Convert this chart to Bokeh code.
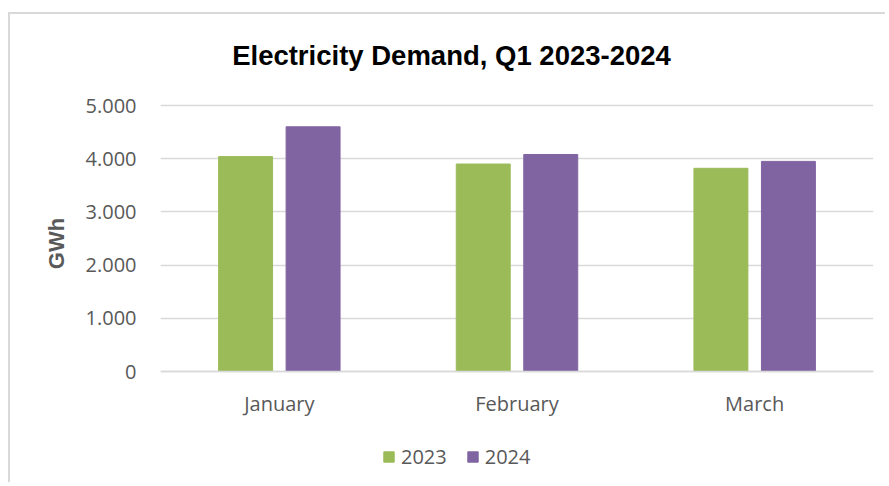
from bokeh.plotting import figure
from bokeh.models import (FactorRange, Range1d, FixedTicker, Legend, LegendItem,
                          Label, ColumnDataSource)
from bokeh.transform import dodge
from bokeh.embed import file_html
from bokeh.resources import INLINE

# ---- data ----
months = ["January", "February", "March"]
demand_2023 = [4040, 3900, 3820]
demand_2024 = [4600, 4080, 3950]
series_names = ["2023", "2024"]
y_ticks = [0, 1000, 2000, 3000, 4000, 5000]
y_tick_labels = ["0", "1.000", "2.000", "3.000", "4.000", "5.000"]
title_text = "Electricity Demand, Q1 2023-2024"
y_label = "GWh"

GREEN = "#9BBB59"
PURPLE = "#8064A2"
TEXT = "#595959"
GRID = "#D9D9D9"

source = ColumnDataSource(dict(month=months, y2023=demand_2023, y2024=demand_2024))

# frame spans the whole chart height; value axis 0..5000 sits inside it
p = figure(
    x_range=FactorRange(*months),
    y_range=Range1d(-1898, 6711),
    width=877, height=470,
    output_backend="svg", toolbar_location=None,
    min_border_left=150, min_border_right=14,
    min_border_top=0, min_border_bottom=12,
)
p.margin = (12, 0, 0, 8)
p.styles = {"border-left": "2px solid #D9D9D9", "border-top": "2px solid #D9D9D9"}
p.outline_line_color = None
p.background_fill_color = "white"
p.border_fill_color = "white"

bw = 0.227
off = 0.142
r1 = p.vbar(x=dodge("month", -off, range=p.x_range), top="y2023", width=bw,
            source=source, fill_color=GREEN, line_color=GREEN)
r2 = p.vbar(x=dodge("month", off, range=p.x_range), top="y2024", width=bw,
            source=source, fill_color=PURPLE, line_color=PURPLE)

# axes
p.yaxis.ticker = FixedTicker(ticks=y_ticks)
p.yaxis.major_label_overrides = {t: l for t, l in zip(y_ticks, y_tick_labels)}
p.yaxis.axis_line_color = None
p.yaxis.major_tick_line_color = None
p.yaxis.minor_tick_line_color = None
p.yaxis.major_label_standoff = 18
p.yaxis.major_label_text_font = "Open Sans"
p.yaxis.major_label_text_font_size = "20px"
p.yaxis.major_label_text_color = TEXT
p.yaxis.axis_label = y_label
p.yaxis.axis_label_text_font = "Liberation Sans"
p.yaxis.axis_label_text_font_style = "bold"
p.yaxis.axis_label_text_font_size = "22px"
p.yaxis.axis_label_text_color = TEXT
p.yaxis.axis_label_standoff = 14

p.xaxis.fixed_location = 0
p.xaxis.axis_line_color = GRID
p.xaxis.axis_line_width = 1.5
p.xaxis.major_tick_line_color = None
p.xaxis.minor_tick_line_color = None
p.xaxis.major_label_standoff = 12
p.xaxis.major_label_text_font = "Open Sans"
p.xaxis.major_label_text_font_size = "20px"
p.xaxis.major_label_text_color = TEXT

p.xgrid.grid_line_color = None
p.ygrid.grid_line_color = GRID
p.ygrid.grid_line_width = 1.5

# title
p.add_layout(Label(x=1.2244, y=5940, text=title_text, text_align="center",
                   text_baseline="alphabetic", text_font="Liberation Sans",
                   text_font_style="bold", text_font_size="27.5px",
                   text_color="black"))

# legend
legend = Legend(items=[LegendItem(label=series_names[0], renderers=[r1]),
                       LegendItem(label=series_names[1], renderers=[r2])],
                orientation="horizontal", location=(222, 2),
                padding=0, margin=0, spacing=19, label_standoff=6,
                glyph_width=13, glyph_height=13,
                label_text_font="Open Sans", label_text_font_size="20px",
                label_text_color=TEXT, border_line_color=None,
                background_fill_alpha=0)
p.add_layout(legend, "center")

open("out.html", "w").write(file_html(p, INLINE))
